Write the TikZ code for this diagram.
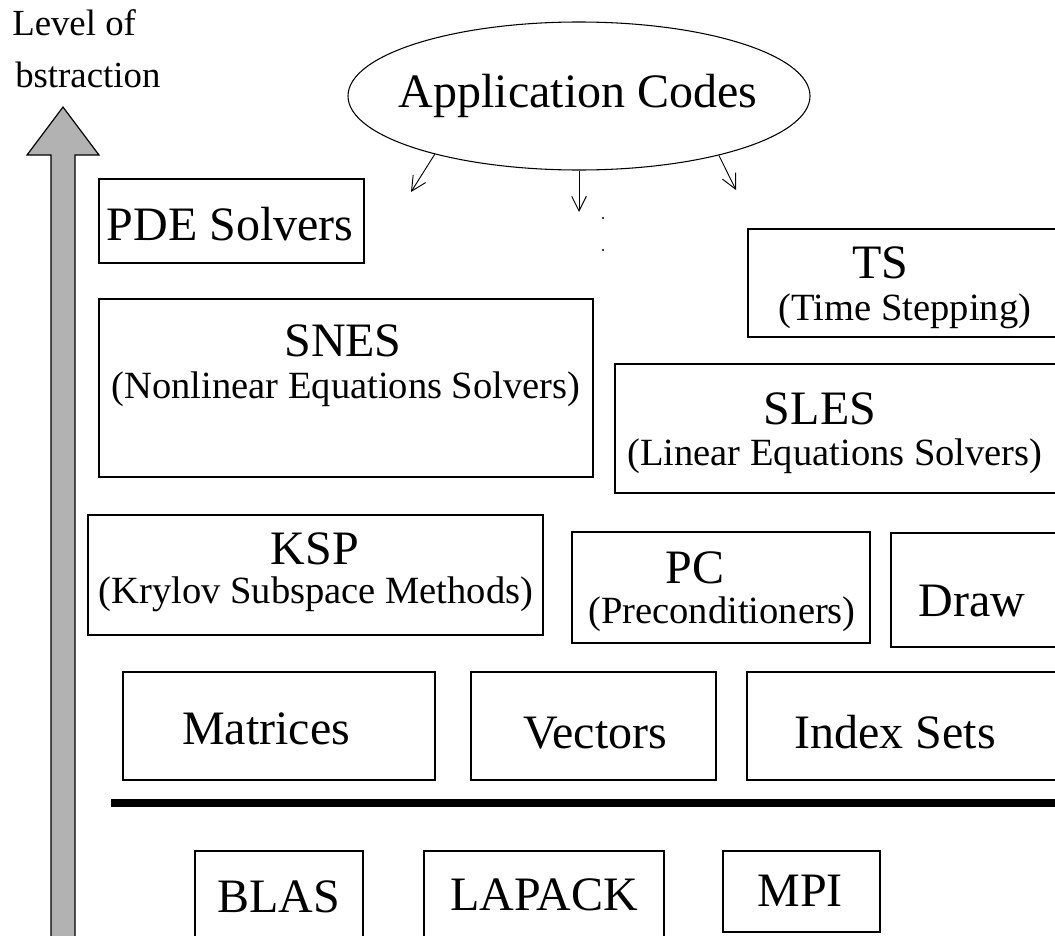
\documentclass[tikz,border=0pt]{standalone}
\usepackage{fontspec}
\setmainfont{Liberation Serif}
\usetikzlibrary{arrows.meta,shapes.geometric}
\begin{document}
\begin{tikzpicture}[x=0.75pt,y=-0.75pt,
  box/.style={draw,line width=0.9pt},
  big/.style={font=\fontsize{36}{40}\selectfont,inner sep=0pt,anchor=base},
  sub/.style={font=\fontsize{28.9}{32}\selectfont,inner sep=0pt,anchor=base},
  lab/.style={font=\fontsize{27.6}{30}\selectfont,inner sep=0pt,anchor=base west},
  arr/.style={-{Straight Barb[length=11pt,width=11pt]},line width=0.7pt}]
\useasboundingbox (0,0) rectangle (1055,935);
\clip (0,0) rectangle (1055,935);

% level of abstraction arrow
\node[lab] (lev1) at (12,35) {Level of};
\node[lab] (lev2) at (15,87) {bstraction};
\draw[line width=0.9pt,fill=black!30]
  (51,940) -- (51,155) -- (27,155) -- (63,107) -- (99,155) -- (75,155) -- (75,940) -- cycle;

% application codes
\node[draw,ellipse,line width=0.8pt,minimum width=346.5pt,minimum height=111pt,inner sep=0pt] (app) at (579,96) {};
\node[big] (apptxt) at (578,107) {Application Codes};
\coordinate (e1) at (411,192);
\coordinate (e2) at (579,212);
\coordinate (e3) at (736,190);
\draw[arr] (app.202.3) -- (e1);
\draw[arr] (app.south) -- (e2);
\draw[arr] (app.-23.9) -- (e3);
\fill (603,218) circle (1.1);
\fill (603,250) circle (1.1);

% boxes
\draw[box] (99,179) rectangle (364,263);
\node[big] (pde) at (230,240) {PDE Solvers};

\draw[box] (748,229) rectangle (1065,337);
\node[big] (ts) at (880,278) {TS};
\node[sub] (tss) at (905,320) {(Time Stepping)};

\draw[box] (99,299) rectangle (593,477);
\node[big] (snes) at (343,356) {SNES};
\node[sub] (sness) at (346,398) {(Nonlinear Equations Solvers)};

\draw[box] (615,364) rectangle (1065,493);
\node[big] (sles) at (820,424) {SLES};
\node[sub] (sless) at (835,465) {(Linear Equations Solvers)};

\draw[box] (88,515) rectangle (543,635);
\node[big] (ksp) at (315,564) {KSP};
\node[sub] (ksps) at (316,603) {(Krylov Subspace Methods)};

\draw[box] (572,532) rectangle (870,643);
\node[big] (pc) at (695,583) {PC};
\node[sub] (pcs) at (722,623) {(Preconditioners)};

\draw[box] (891,533) rectangle (1065,647);
\node[big] (draw) at (972,616) {Draw};

\draw[box] (123,672) rectangle (435,780);
\node[big] (mat) at (266,744) {Matrices};
\draw[box] (471,672) rectangle (716,780);
\node[big] (vec) at (595,748) {Vectors};
\draw[box] (747,672) rectangle (1065,780);
\node[big] (is) at (895,748) {Index Sets};

% separator
\coordinate (s1) at (111,803);
\coordinate (s2) at (1060,803);
\draw[line width=6pt] (s1) -- (s2);

\draw[box] (195,851) rectangle (363,940);
\node[big] (blas) at (279,912) {BLAS};
\draw[box] (424,851) rectangle (664,940);
\node[big] (lapack) at (544,910) {LAPACK};
\draw[box] (723,851) rectangle (880,932);
\node[big] (mpi) at (800,906) {MPI};
\end{tikzpicture}
\end{document}
